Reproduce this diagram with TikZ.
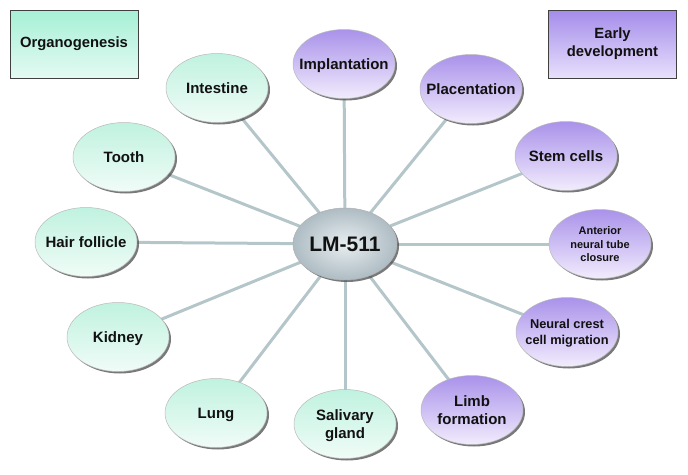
\documentclass[tikz,border=0pt]{standalone}
\usepackage{fontspec}
\setmainfont{Liberation Sans}
\usetikzlibrary{shapes.geometric,shadows}
\pgfdeclarelayer{background}
\pgfsetlayers{background,main}
\definecolor{grtop}{HTML}{C0F2E0}
\definecolor{grbot}{HTML}{F0FCF7}
\definecolor{putop}{HTML}{A992EA}
\definecolor{pubot}{HTML}{F2ECFD}
\definecolor{bxgtop}{HTML}{A6F0D6}
\definecolor{bxgbot}{HTML}{E4FAF2}
\definecolor{bxptop}{HTML}{A48CEA}
\definecolor{bxpbot}{HTML}{E8E0FC}
\definecolor{spoke}{HTML}{B4C6CA}
\definecolor{hubA}{HTML}{E8EEF1}
\definecolor{hubB}{HTML}{AEBCC3}
\definecolor{txt}{HTML}{111111}
\newsavebox{\ctbox}
\newcommand{\ctext}[2][3.6pt]{\sbox{\ctbox}{\begin{tabular}{@{}c@{}}#2\end{tabular}}\makebox[0pt]{\usebox{\ctbox}}\rule{0pt}{\dimexpr\ht\ctbox+#1\relax}}
\tikzset{
  bubble/.style={ellipse, minimum width=102pt, minimum height=69pt, inner sep=0pt,
    draw=gray!55, line width=0.5pt, text=txt,
    font=\fontsize{15}{18}\selectfont\bfseries,
    drop shadow={shadow xshift=2pt, shadow yshift=-2pt, fill=black!70, opacity=0.75}},
  greenb/.style={bubble, top color=grtop, bottom color=grbot},
  purpleb/.style={bubble, top color=putop, bottom color=pubot},
  hub/.style={ellipse, minimum width=104pt, minimum height=72pt, inner sep=0pt,
    draw=gray!60, line width=0.5pt, text=txt,
    inner color=hubA, outer color=hubB,
    font=\fontsize{21}{24}\selectfont\bfseries,
    drop shadow={shadow xshift=2pt, shadow yshift=-2pt, fill=black!70, opacity=0.75}},
  catbox/.style={rectangle, minimum width=128pt, minimum height=68pt, inner sep=0pt,
    draw=black!75, line width=0.6pt, align=center, text=txt,
    font=\fontsize{14.8}{18}\selectfont\bfseries},
  link/.style={draw=spoke, line width=3pt}
}
\begin{document}
\begin{tikzpicture}[x=1pt,y=-1pt]
\useasboundingbox (0,0) rectangle (688,474);
\node[catbox, top color=bxgtop, bottom color=bxgbot] (org) at (74,44) {Organogenesis};
\node[catbox, top color=bxptop, bottom color=bxpbot] (early) at (612.5,44) {Early\\development};

\node[hub] (hub) at (345,244) {\ctext[5.6pt]{LM-511}};

\node[purpleb] (impl) at (344,64) {\ctext{Implantation}};
\node[purpleb] (plac) at (471,89) {\ctext{Placentation}};
\node[purpleb] (stem) at (566,156) {\ctext{Stem cells}};
\node[purpleb, font=\fontsize{11}{13.5}\selectfont\bfseries] (ant) at (600,244) {\ctext[2.6pt]{Anterior\\neural tube\\closure}};
\node[purpleb, font=\fontsize{12.8}{15.5}\selectfont\bfseries] (ncc) at (567,332) {\ctext[3pt]{Neural crest\\cell migration}};
\node[purpleb] (limb) at (472,410) {\ctext{Limb\\formation}};

\node[greenb] (sal) at (345,424) {\ctext{Salivary\\gland}};
\node[greenb] (lung) at (216,413) {\ctext{Lung}};
\node[greenb] (kid) at (118,337) {\ctext{Kidney}};
\node[greenb] (hair) at (86,242) {\ctext{Hair follicle}};
\node[greenb] (tooth) at (124,157) {\ctext{Tooth}};
\node[greenb] (int) at (217,88) {\ctext{Intestine}};

\begin{pgfonlayer}{background}
\foreach \n in {impl,plac,stem,ant,ncc,limb,sal,lung,kid,hair,tooth,int}
  \draw[link] (hub.center) -- (\n.center);
\end{pgfonlayer}
\end{tikzpicture}
\end{document}
